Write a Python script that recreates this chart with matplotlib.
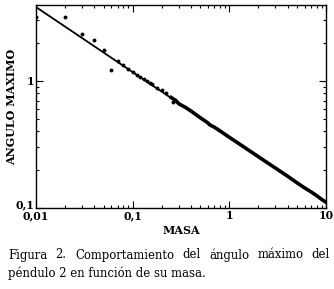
import numpy as np
import matplotlib.pyplot as plt
import matplotlib.transforms as mtransforms
from matplotlib.ticker import FixedLocator, LogLocator, NullFormatter

# sparse measurements at small mass
masa_dots = [0.01, 0.02, 0.03, 0.04, 0.05, 0.06, 0.07, 0.08, 0.09, 0.10, 0.11,
             0.12, 0.13, 0.14, 0.15, 0.16, 0.18, 0.20, 0.22, 0.26]
angulo_dots = [3.2, 3.2, 2.32, 2.11, 1.75, 1.22, 1.43, 1.34, 1.25, 1.18, 1.12,
               1.08, 1.04, 1.00, 0.97, 0.94, 0.88, 0.84, 0.80, 0.68]

# dense measurements (look like a thick line)
masa_dense = [0.25, 0.28, 0.30, 0.35, 0.40, 0.50, 0.60, 0.63, 0.70, 0.80, 1.0,
              1.5, 2.0, 3.0, 4.0, 5.0, 6.0, 7.0, 8.0, 9.0, 10.0]
angulo_dense = [0.74, 0.70, 0.66, 0.62, 0.58, 0.513, 0.467, 0.45, 0.432, 0.404, 0.36,
                0.293, 0.253, 0.206, 0.178, 0.158, 0.144, 0.134, 0.125, 0.117, 0.111]

xticks = [0.01, 0.1, 1, 10]
xticklabels = ['0,01', '0,1', '1', '10']
yticks = [0.1, 1]
yticklabels = ['0,1', '1']

caption1 = 'Figura 2. Comportamiento del ángulo máximo del'
caption2 = 'péndulo 2 en función de su masa.'

plt.rcParams['font.family'] = ['DejaVu Serif']

W, H = 334, 289
fig = plt.figure(figsize=(W / 100, H / 100), dpi=100)
ax = fig.add_axes([36 / W, 1 - 208 / H, 290 / W, 203 / H])

# power-law fit on log data
coef = np.polyfit(np.log10(masa_dense), np.log10(angulo_dense), 1)
xf = np.logspace(-2, 1, 50)
ax.plot(xf, 10 ** np.polyval(coef, np.log10(xf)), 'k-', lw=1.3)

ax.plot(masa_dense, angulo_dense, 'k-', lw=2.6)
ax.plot(masa_dots, angulo_dots, 'ko', ms=2.8, mec='none')

ax.set_xscale('log')
ax.set_yscale('log')
ax.set_xlim(0.01, 10)
ax.set_ylim(0.1, 3.95)

ax.xaxis.set_major_locator(FixedLocator(xticks))
ax.set_xticklabels(xticklabels)
ax.yaxis.set_major_locator(FixedLocator(yticks))
ax.set_yticklabels(yticklabels)
for a in (ax.xaxis, ax.yaxis):
    a.set_minor_locator(LogLocator(base=10, subs=np.arange(2, 10)))
    a.set_minor_formatter(NullFormatter())

ax.tick_params(which='both', direction='in', top=True, right=True, width=0.8)
ax.tick_params(which='major', length=5, labelsize=7.8, pad=1.5)
ax.tick_params(which='minor', length=2.5)
for lab in ax.get_xticklabels() + ax.get_yticklabels():
    lab.set_fontweight('bold')
for s in ax.spines.values():
    s.set_linewidth(1.0)

# lift the lowest y label a little, as in the original
low = ax.get_yticklabels()[0]
low.set_transform(low.get_transform() +
                  mtransforms.ScaledTranslation(0, 3 / 72, fig.dpi_scale_trans))

ax.set_xlabel('MASA', fontsize=8, fontweight='bold', labelpad=3)
ax.set_ylabel('ANGULO MAXIMO', fontsize=8, fontweight='bold')
ax.yaxis.set_label_coords(-19 / 290, 0.5)

# justified first caption line, from x=8 px to x=330 px
fig.canvas.draw()
rend = fig.canvas.get_renderer()
words = caption1.split()
texts = [fig.text(0, 1 - 255 / H, w, fontsize=8.4, va='center') for w in words]
widths = [t.get_window_extent(rend).width for t in texts]
gap = (322 - sum(widths)) / (len(words) - 1)
x = 8
for t, w in zip(texts, widths):
    t.set_x(x / W)
    x += w + gap
fig.text(8 / W, 1 - 273 / H, caption2, fontsize=8.4, va='center')

fig.savefig('out.png', dpi=100)
